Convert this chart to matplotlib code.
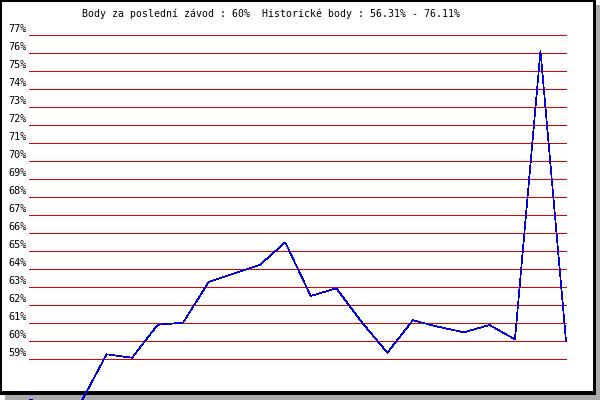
import matplotlib
matplotlib.use("Agg")
import matplotlib.pyplot as plt
from matplotlib.patches import Rectangle

# body za jednotlivé závody (%)
scores = [56.75, 56.31, 56.6, 59.26, 59.07, 60.9, 61.02, 63.28, 63.76, 64.22,
          65.48, 62.5, 62.93, 61.04, 59.35, 61.15, 60.79, 60.48, 60.89, 60.09,
          76.11, 60.0]
levels = list(range(59, 78))
level_labels = [f"{v}%" for v in levels]
title = "Body za poslední závod : 60%  Historické body : 56.31% - 76.11%"

W, H = 600, 400
fig = plt.figure(figsize=(6, 4), dpi=100)

# pozadí: stín, černý rámeček, bílá plocha (v pixelech)
bg = fig.add_axes([0, 0, 1, 1])
bg.set_xlim(0, W)
bg.set_ylim(H, 0)
bg.axis("off")
bg.add_patch(Rectangle((5, 4.5), 595, 395.5, color="#aaaaaa", lw=0))
bg.add_patch(Rectangle((0, 0), 596, 395, color="black", lw=0))
bg.add_patch(Rectangle((2.3, 2.3), 591, 388.7, color="white", lw=0))

# datová osa přes celý obrázek
x0, dx = 30, 25.524   # pixel prvního bodu, rozestup
y0, dy = 35, 18       # pixel pro 77 %, pixely na 1 %
ax = fig.add_axes([0, 0, 1, 1])
ax.patch.set_alpha(0)
ax.axis("off")
ax.set_xlim(-x0 / dx, (W - x0) / dx)
ax.set_ylim(77 - (H - y0) / dy, 77 + y0 / dy)

xs = list(range(len(scores)))
ax.hlines(levels, -1 / dx, len(scores) - 1, color="#e00000", lw=0.72,
          antialiased=False)
ax.plot(xs, scores, color="#0000dd", lw=0.5, antialiased=False, zorder=3)

for v, lab in zip(levels, level_labels):
    ax.annotate(lab, xy=(-1 / dx, v), xytext=(-2, 6), textcoords="offset pixels",
                ha="right", va="center", fontsize=7.3, family="DejaVu Sans Mono")

fig.text(82 / W, 1 - 16.8 / H, title, ha="left", va="baseline",
         fontsize=7.1, family="DejaVu Sans Mono")

fig.savefig("out.png", dpi=100)
